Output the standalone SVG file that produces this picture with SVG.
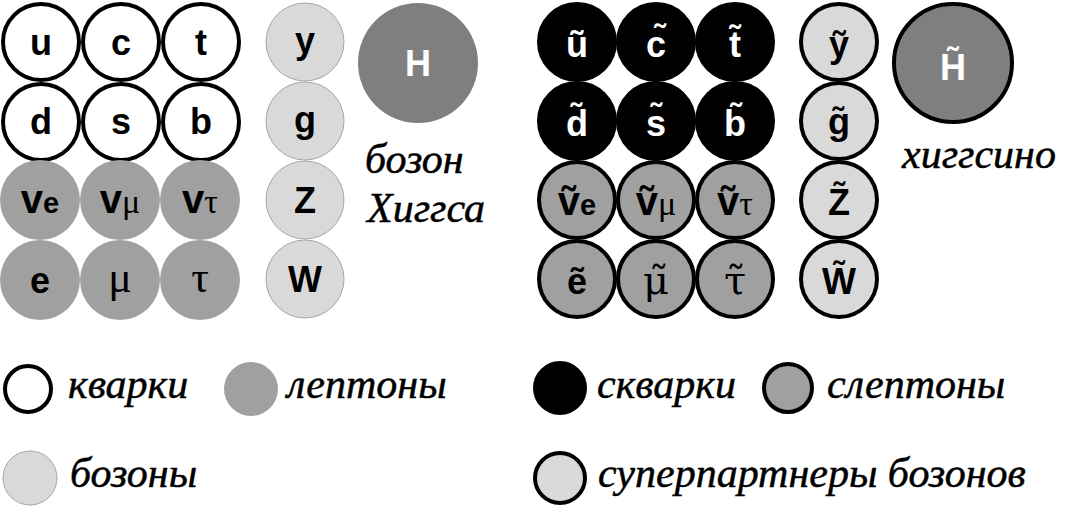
<svg xmlns="http://www.w3.org/2000/svg" width="1068" height="510" viewBox="0 0 1068 510">
<style>
.bg{fill:#ffffff}
.q{fill:#ffffff;stroke:#000;stroke-width:4}
.l{fill:#a0a0a0}
.b{fill:#d9d9d9;stroke:#a6a6a6;stroke-width:1}
.h{fill:#7f7f7f}
.sq{fill:#000;stroke:#000;stroke-width:4}
.sl{fill:#a0a0a0;stroke:#000;stroke-width:4}
.sb{fill:#d9d9d9;stroke:#000;stroke-width:4}
.sh{fill:#7f7f7f;stroke:#000;stroke-width:4}
.t{font-family:"Liberation Sans",Arial,sans-serif;font-weight:bold;font-size:36px;text-anchor:middle;fill:#000}
.nu{font-size:40px}
.sub{font-size:29px}
.g{font-family:"Liberation Serif","Times New Roman",serif;font-weight:normal;font-size:44px}
.gd{font-family:"DejaVu Serif",serif;font-weight:normal;font-size:40px}
.gs{font-family:"Liberation Serif","Times New Roman",serif;font-weight:normal;font-size:34px}
.lab{font-family:"Liberation Serif","Times New Roman",serif;font-style:italic;font-size:42px;fill:#000;stroke:#000;stroke-width:0.5}
.tw{fill:#fff}
</style>
<rect class="bg" x="0" y="0" width="1068" height="510"/>
<g id="connectors"/>
<!-- Standard model quarks -->
<g id="u"><circle class="q" cx="41" cy="42" r="38"/><text class="t" x="41" y="55">u</text></g>
<g id="c"><circle class="q" cx="121" cy="42" r="38"/><text class="t" x="121" y="55">c</text></g>
<g id="t"><circle class="q" cx="201" cy="42" r="38"/><text class="t" x="201" y="55">t</text></g>
<g id="d"><circle class="q" cx="41" cy="122" r="38"/><text class="t" x="41" y="134">d</text></g>
<g id="s"><circle class="q" cx="121" cy="122" r="38"/><text class="t" x="121" y="134">s</text></g>
<g id="b"><circle class="q" cx="201" cy="122" r="38"/><text class="t" x="201" y="134">b</text></g>
<!-- leptons -->
<g id="nue"><circle class="l" cx="40" cy="200" r="40"/><text class="t" x="40" y="213"><tspan class="nu">v</tspan><tspan class="sub">e</tspan></text></g>
<g id="numu"><circle class="l" cx="120" cy="200" r="40"/><text class="t" x="120" y="213"><tspan class="nu">v</tspan><tspan class="gs">μ</tspan></text></g>
<g id="nutau"><circle class="l" cx="200" cy="200" r="40"/><text class="t" x="200" y="213"><tspan class="nu">v</tspan><tspan class="gs">τ</tspan></text></g>
<g id="e"><circle class="l" cx="40" cy="280" r="40"/><text class="t" x="40" y="293">e</text></g>
<g id="mu"><circle class="l" cx="120" cy="280" r="40"/><text class="t g" x="120" y="292">μ</text></g>
<g id="tau"><circle class="l" cx="200" cy="280" r="40"/><text class="t g" x="200" y="292">τ</text></g>
<!-- bosons -->
<g id="gamma"><circle class="b" cx="305" cy="42" r="39"/><text class="t" x="305" y="53">y</text></g>
<g id="gluon"><circle class="b" cx="305" cy="121" r="39"/><text class="t" x="305" y="132">g</text></g>
<g id="Z"><circle class="b" cx="305" cy="200" r="39"/><text class="t" x="305" y="213">Z</text></g>
<g id="W"><circle class="b" cx="305" cy="279" r="39"/><text class="t" x="305" y="292">W</text></g>
<g id="H"><circle class="h" cx="418" cy="63" r="60"/><text class="t tw" x="418" y="76">H</text></g>
<g id="higgs-label"><text class="lab" x="365" y="173">бозон</text><text class="lab" x="367" y="222">Хиггса</text></g>
<!-- squarks -->
<g id="su"><circle class="sq" cx="577" cy="42" r="38"/><text class="t tw" x="577" y="57">ũ</text></g>
<g id="sc"><circle class="sq" cx="656" cy="42" r="38"/><text class="t tw" x="656" y="57">c̃</text></g>
<g id="st"><circle class="sq" cx="735" cy="42" r="38"/><text class="t tw" x="735" y="57">t̃</text></g>
<g id="sd"><circle class="sq" cx="577" cy="121" r="38"/><text class="t tw" x="577" y="136">d̃</text></g>
<g id="ss"><circle class="sq" cx="656" cy="121" r="38"/><text class="t tw" x="656" y="136">s̃</text></g>
<g id="sb"><circle class="sq" cx="735" cy="121" r="38"/><text class="t tw" x="735" y="136">b̃</text></g>
<!-- sleptons -->
<g id="snue"><circle class="sl" cx="577" cy="200" r="38"/><text class="t" x="577" y="215"><tspan class="nu">ṽ</tspan><tspan class="sub">e</tspan></text></g>
<g id="snumu"><circle class="sl" cx="656" cy="200" r="38"/><text class="t" x="656" y="215"><tspan class="nu">ṽ</tspan><tspan class="gs">μ</tspan></text></g>
<g id="snutau"><circle class="sl" cx="735" cy="200" r="38"/><text class="t" x="735" y="215"><tspan class="nu">ṽ</tspan><tspan class="gs">τ</tspan></text></g>
<g id="se"><circle class="sl" cx="577" cy="279" r="38"/><text class="t" x="577" y="294">ẽ</text></g>
<g id="smu"><circle class="sl" cx="656" cy="279" r="38"/><text class="t gd" x="656" y="294">μ̃</text></g>
<g id="stau"><circle class="sl" cx="735" cy="279" r="38"/><text class="t gd" x="735" y="294">τ̃</text></g>
<!-- gauginos -->
<g id="sgamma"><circle class="sb" cx="839" cy="42" r="38"/><text class="t" x="839" y="57">ỹ</text></g>
<g id="sgluon"><circle class="sb" cx="839" cy="121" r="38"/><text class="t" x="839" y="134">g̃</text></g>
<g id="sZ"><circle class="sb" cx="839" cy="200" r="38"/><text class="t" x="839" y="215">Z̃</text></g>
<g id="sW"><circle class="sb" cx="839" cy="279" r="38"/><text class="t" x="839" y="294">W̃</text></g>
<g id="sH"><circle class="sh" cx="953" cy="63" r="59"/><text class="t tw" x="953" y="80">H̃</text></g>
<g id="higgsino-label"><text class="lab" x="902" y="168">хиггсино</text></g>
<!-- legend -->
<g id="leg-quarks"><circle class="q" cx="28" cy="389" r="23"/><text class="lab" x="68" y="398">кварки</text></g>
<g id="leg-leptons"><circle class="l" cx="251" cy="389" r="27"/><text class="lab" x="287" y="398">лептоны</text></g>
<g id="leg-bosons"><circle class="b" cx="30" cy="478" r="27"/><text class="lab" x="70" y="487">бозоны</text></g>
<g id="leg-squarks"><circle class="sq" cx="560" cy="388" r="25"/><text class="lab" x="597" y="398">скварки</text></g>
<g id="leg-sleptons"><circle class="sl" cx="788" cy="388" r="24"/><text class="lab" x="827" y="398">слептоны</text></g>
<g id="leg-superbosons"><circle class="sb" cx="560" cy="478" r="25"/><text class="lab" x="598" y="487">суперпартнеры бозонов</text></g>
</svg>
